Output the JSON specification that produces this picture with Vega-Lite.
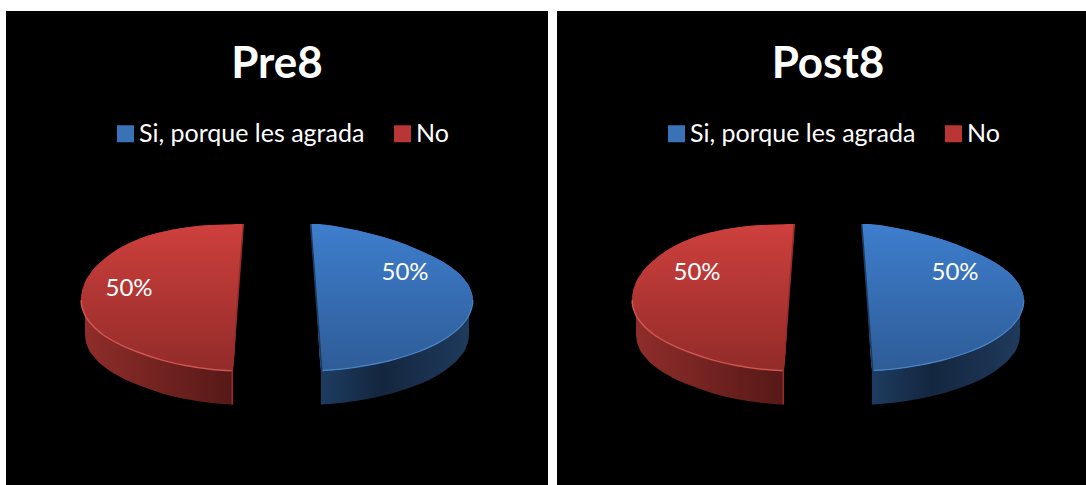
{
"$schema":"https://vega.github.io/schema/vega-lite/v6.json",
"background":"white",
"padding":{"left":6,"top":11,"right":0,"bottom":0},
"spacing":9,
"resolve":{"scale":{"color":"independent"},"legend":{"color":"independent"}},
"config":{"view":{"fill":"black","stroke":null},"axis":{"grid":false}},
"datasets":{
"top":[
{"slice":"No","x":75.2,"y":289.1,"y2":289.1},{"slice":"No","x":75.35,"y":285.8,"y2":292.2},{"slice":"No","x":75.8,"y":282.2,"y2":295},{"slice":"No","x":77.6,"y":275.5,"y2":300.9},{"slice":"No","x":84.6,"y":262.3,"y2":312.3},{"slice":"No","x":96.2,"y":249.8,"y2":323},{"slice":"No","x":111.8,"y":238.3,"y2":332.4},{"slice":"No","x":131.1,"y":228.7,"y2":340.8},{"slice":"No","x":153.5,"y":221.6,"y2":348.4},{"slice":"No","x":178.2,"y":216.7,"y2":354.2},{"slice":"No","x":204.6,"y":214,"y2":358.2},{"slice":"No","x":226.3,"y":213.4,"y2":359.7},{"slice":"No","x":231.8,"y":213.1,"y2":286.35},{"slice":"No","x":237.3,"y":213,"y2":213},
{"slice":"Si, porque les agrada","x":304.7,"y":213,"y2":213},{"slice":"Si, porque les agrada","x":310.2,"y":213.1,"y2":286.35},{"slice":"Si, porque les agrada","x":315.7,"y":213.4,"y2":359.7},{"slice":"Si, porque les agrada","x":337.4,"y":216.7,"y2":357.9},{"slice":"Si, porque les agrada","x":363.8,"y":222.4,"y2":353.9},{"slice":"Si, porque les agrada","x":388.5,"y":229.6,"y2":348.4},{"slice":"Si, porque les agrada","x":410.9,"y":238.2,"y2":341.3},{"slice":"Si, porque les agrada","x":430.2,"y":247.3,"y2":332.9},{"slice":"Si, porque les agrada","x":445.8,"y":256.8,"y2":323},{"slice":"Si, porque les agrada","x":457.4,"y":267.25,"y2":312.3},{"slice":"Si, porque les agrada","x":464.4,"y":278.3,"y2":300.9},{"slice":"Si, porque les agrada","x":466.2,"y":283.7,"y2":295},{"slice":"Si, porque les agrada","x":466.65,"y":286,"y2":292.3},{"slice":"Si, porque les agrada","x":466.8,"y":289,"y2":289}
],
"side":[
{"slice":"No","x":79,"y":289.1,"y2":322.9},{"slice":"No","x":79.6,"y":295,"y2":328.8},{"slice":"No","x":81.3,"y":300.9,"y2":334.7},{"slice":"No","x":88.2,"y":312.3,"y2":346.1},{"slice":"No","x":99.5,"y":323,"y2":356.8},{"slice":"No","x":114.8,"y":332.4,"y2":366.2},{"slice":"No","x":133.6,"y":340.8,"y2":374.6},{"slice":"No","x":155.4,"y":348.4,"y2":382.2},{"slice":"No","x":179.5,"y":354.2,"y2":388},{"slice":"No","x":205.3,"y":358.2,"y2":392},{"slice":"No","x":226.3,"y":359.7,"y2":393.5},
{"slice":"Si, porque les agrada","x":315.7,"y":359.7,"y2":393.5},{"slice":"Si, porque les agrada","x":336.7,"y":357.9,"y2":391.7},{"slice":"Si, porque les agrada","x":362.5,"y":353.9,"y2":387.7},{"slice":"Si, porque les agrada","x":386.6,"y":348.4,"y2":382.2},{"slice":"Si, porque les agrada","x":408.4,"y":341.3,"y2":375.1},{"slice":"Si, porque les agrada","x":427.2,"y":332.9,"y2":366.7},{"slice":"Si, porque les agrada","x":442.5,"y":323,"y2":356.8},{"slice":"Si, porque les agrada","x":453.8,"y":312.3,"y2":346.1},{"slice":"Si, porque les agrada","x":460.7,"y":300.9,"y2":334.7},{"slice":"Si, porque les agrada","x":462.4,"y":295,"y2":328.8},{"slice":"Si, porque les agrada","x":463,"y":289,"y2":322.8}
],
"edge":[
{"slice":"No","x":237.3,"y":213},{"slice":"No","x":226.3,"y":359.7},{"slice":"No","x":226.3,"y":393.5},
{"slice":"Si, porque les agrada","x":304.7,"y":213},{"slice":"Si, porque les agrada","x":315.7,"y":359.7},{"slice":"Si, porque les agrada","x":315.7,"y":393.5}
],
"prelabels":[{"slice":"Si, porque les agrada","share":0.5,"x":399,"y":261.5},{"slice":"No","share":0.5,"x":123,"y":277.5}],
"postlabels":[{"slice":"Si, porque les agrada","share":0.5,"x":398,"y":261.5},{"slice":"No","share":0.5,"x":140,"y":261.5}]
},
"hconcat":[
{"width":542,"height":474,
"title":{"text":"Pre8","font":"Lato","fontWeight":"bold","fontSize":44,"color":"white","anchor":"middle","offset":-76},
"encoding":{
"x":{"field":"x","type":"quantitative","axis":null,"scale":{"domain":[0,542],"nice":false,"zero":false}},
"y":{"field":"y","type":"quantitative","axis":null,"scale":{"domain":[474,0],"nice":false,"zero":false}}
},
"layer":[
{"data":{"name":"side"},"transform":[{"filter":"datum.slice==='No'"}],"mark":{"type":"area","interpolate":"monotone","color":{"gradient":"linear","x1":0,"y1":0,"x2":1,"y2":0,"stops":[{"offset":0,"color":"#8f2d2a"},{"offset":1,"color":"#561917"}]}},"encoding":{"y2":{"field":"y2"}}},
{"data":{"name":"side"},"transform":[{"filter":"datum.slice!=='No'"}],"mark":{"type":"area","interpolate":"monotone","color":{"gradient":"linear","x1":0,"y1":0,"x2":1,"y2":0,"stops":[{"offset":0,"color":"#1d3c60"},{"offset":0.4,"color":"#14263f"},{"offset":1,"color":"#1f3a5c"}]}},"encoding":{"y2":{"field":"y2"}}},
{"data":{"name":"top"},"mark":{"type":"area","interpolate":"monotone"},"encoding":{"y2":{"field":"y2"},"color":{"field":"slice","type":"nominal","scale":{"domain":["Si, porque les agrada","No"],"range":["#3a72b8","#b83633"]},"legend":{"title":null,"orient":"none","legendX":107,"legendY":110,"direction":"horizontal","symbolType":"square","symbolSize":289,"symbolStrokeWidth":0,"symbolOpacity":1,"labelColor":"white","labelFont":"Lato","labelFontSize":25,"labelOffset":1,"labelLimit":400,"columnPadding":25,"padding":0}}}},
{"data":{"name":"top"},"transform":[{"filter":"datum.slice==='No'"}],"mark":{"type":"area","interpolate":"monotone","color":{"gradient":"linear","x1":0,"y1":0,"x2":0,"y2":1,"stops":[{"offset":0,"color":"#ce403d"},{"offset":1,"color":"#922b29"}]}},"encoding":{"y2":{"field":"y2"}}},
{"data":{"name":"top"},"transform":[{"filter":"datum.slice!=='No'"}],"mark":{"type":"area","interpolate":"monotone","color":{"gradient":"linear","x1":0,"y1":0,"x2":0,"y2":1,"stops":[{"offset":0,"color":"#3e7ecd"},{"offset":1,"color":"#2e5c97"}]}},"encoding":{"y2":{"field":"y2"}}},
{"data":{"name":"top"},"transform":[{"filter":"datum.slice==='No' && datum.x<=226.3"}],"mark":{"type":"line","interpolate":"monotone","color":"#cf5552","strokeWidth":1.5},"encoding":{"y":{"field":"y2","type":"quantitative"}}},
{"data":{"name":"top"},"transform":[{"filter":"datum.slice!=='No' && datum.x>=315.7"}],"mark":{"type":"line","interpolate":"monotone","color":"#4a84c6","strokeWidth":1.2},"encoding":{"y":{"field":"y2","type":"quantitative"}}},
{"data":{"name":"edge"},"transform":[{"filter":"datum.slice==='No'"}],"mark":{"type":"line","color":"#962d2a","strokeWidth":1.6,"orient":"horizontal"},"encoding":{"order":{"field":"y","type":"quantitative"}}},
{"data":{"name":"edge"},"transform":[{"filter":"datum.slice!=='No'"}],"mark":{"type":"line","color":"#1d3a5e","strokeWidth":1.6,"orient":"horizontal"},"encoding":{"order":{"field":"y","type":"quantitative"}}},
{"data":{"name":"prelabels"},"mark":{"type":"text","font":"Lato","fontSize":24,"color":"white","align":"center","baseline":"middle"},"encoding":{"text":{"field":"share","type":"quantitative","format":".0%"}}}
]},
{"width":529,"height":474,
"title":{"text":"Post8","font":"Lato","fontWeight":"bold","fontSize":44,"color":"white","anchor":"middle","offset":-76,"dx":6.5},
"encoding":{
"x":{"field":"x","type":"quantitative","axis":null,"scale":{"domain":[0,529],"nice":false,"zero":false}},
"y":{"field":"y","type":"quantitative","axis":null,"scale":{"domain":[474,0],"nice":false,"zero":false}}
},
"layer":[
{"data":{"name":"side"},"transform":[{"filter":"datum.slice==='No'"}],"mark":{"type":"area","interpolate":"monotone","color":{"gradient":"linear","x1":0,"y1":0,"x2":1,"y2":0,"stops":[{"offset":0,"color":"#8f2d2a"},{"offset":1,"color":"#561917"}]}},"encoding":{"y2":{"field":"y2"}}},
{"data":{"name":"side"},"transform":[{"filter":"datum.slice!=='No'"}],"mark":{"type":"area","interpolate":"monotone","color":{"gradient":"linear","x1":0,"y1":0,"x2":1,"y2":0,"stops":[{"offset":0,"color":"#1d3c60"},{"offset":0.4,"color":"#14263f"},{"offset":1,"color":"#1f3a5c"}]}},"encoding":{"y2":{"field":"y2"}}},
{"data":{"name":"top"},"mark":{"type":"area","interpolate":"monotone"},"encoding":{"y2":{"field":"y2"},"color":{"field":"slice","type":"nominal","scale":{"domain":["Si, porque les agrada","No"],"range":["#3a72b8","#b83633"]},"legend":{"title":null,"orient":"none","legendX":107,"legendY":110,"direction":"horizontal","symbolType":"square","symbolSize":289,"symbolStrokeWidth":0,"symbolOpacity":1,"labelColor":"white","labelFont":"Lato","labelFontSize":25,"labelOffset":1,"labelLimit":400,"columnPadding":25,"padding":0}}}},
{"data":{"name":"top"},"transform":[{"filter":"datum.slice==='No'"}],"mark":{"type":"area","interpolate":"monotone","color":{"gradient":"linear","x1":0,"y1":0,"x2":0,"y2":1,"stops":[{"offset":0,"color":"#ce403d"},{"offset":1,"color":"#922b29"}]}},"encoding":{"y2":{"field":"y2"}}},
{"data":{"name":"top"},"transform":[{"filter":"datum.slice!=='No'"}],"mark":{"type":"area","interpolate":"monotone","color":{"gradient":"linear","x1":0,"y1":0,"x2":0,"y2":1,"stops":[{"offset":0,"color":"#3e7ecd"},{"offset":1,"color":"#2e5c97"}]}},"encoding":{"y2":{"field":"y2"}}},
{"data":{"name":"top"},"transform":[{"filter":"datum.slice==='No' && datum.x<=226.3"}],"mark":{"type":"line","interpolate":"monotone","color":"#cf5552","strokeWidth":1.5},"encoding":{"y":{"field":"y2","type":"quantitative"}}},
{"data":{"name":"top"},"transform":[{"filter":"datum.slice!=='No' && datum.x>=315.7"}],"mark":{"type":"line","interpolate":"monotone","color":"#4a84c6","strokeWidth":1.2},"encoding":{"y":{"field":"y2","type":"quantitative"}}},
{"data":{"name":"edge"},"transform":[{"filter":"datum.slice==='No'"}],"mark":{"type":"line","color":"#962d2a","strokeWidth":1.6,"orient":"horizontal"},"encoding":{"order":{"field":"y","type":"quantitative"}}},
{"data":{"name":"edge"},"transform":[{"filter":"datum.slice!=='No'"}],"mark":{"type":"line","color":"#1d3a5e","strokeWidth":1.6,"orient":"horizontal"},"encoding":{"order":{"field":"y","type":"quantitative"}}},
{"data":{"name":"postlabels"},"mark":{"type":"text","font":"Lato","fontSize":24,"color":"white","align":"center","baseline":"middle"},"encoding":{"text":{"field":"share","type":"quantitative","format":".0%"}}}
]}
]
}
